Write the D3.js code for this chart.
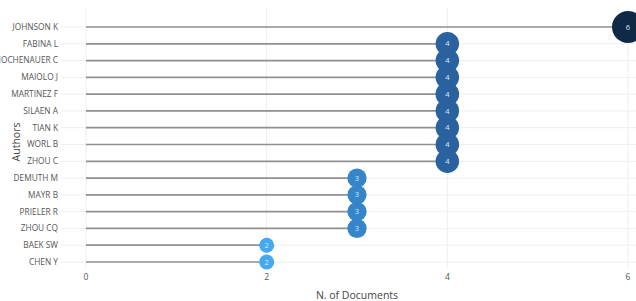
<!DOCTYPE html>
<html>
<head>
<meta charset="utf-8">
<script src="https://cdn.jsdelivr.net/npm/d3@7"></script>
<style>
  body { margin: 0; background: #fff; }
  text { font-family: "Open Sans", sans-serif; }
</style>
</head>
<body>
<div id="chart"></div>
<script>
// Data
const authors = ["JOHNSON K", "FABINA L", "HOCHENAUER C", "MAIOLO J", "MARTINEZ F", "SILAEN A",
  "TIAN K", "WORL B", "ZHOU C", "DEMUTH M", "MAYR B", "PRIELER R", "ZHOU CQ", "BAEK SW", "CHEN Y"];
const documents = [6, 4, 4, 4, 4, 4, 4, 4, 4, 3, 3, 3, 3, 2, 2];
const xTicks = [0, 2, 4, 6];

const width = 636;
const height = 301;

const svg = d3.select("#chart")
  .append("svg")
  .attr("width", width)
  .attr("height", height);

// scales
const x = d3.scaleLinear()
  .domain([0, 6])
  .range([86, 628]);

const y = d3.scalePoint()
  .domain(authors)
  .range([27, 262]);

const r = d3.scaleLinear()
  .domain([2, 6])
  .range([7.5, 16]);

const color = d3.scaleOrdinal()
  .domain([2, 3, 4, 6])
  .range(["#45a9ef", "#3585cb", "#2a62a0", "#0f2946"]);

// grid
svg.append("g")
  .selectAll("line")
  .data(xTicks)
  .join("line")
  .attr("x1", d => x(d))
  .attr("x2", d => x(d))
  .attr("y1", 8)
  .attr("y2", 268)
  .attr("stroke", "#eeeeee")
  .attr("stroke-width", 1);

svg.append("g")
  .selectAll("line")
  .data(authors)
  .join("line")
  .attr("x1", 61)
  .attr("x2", width)
  .attr("y1", d => y(d))
  .attr("y2", d => y(d))
  .attr("stroke", "#eeeeee")
  .attr("stroke-width", 1);

// y labels
svg.append("g")
  .selectAll("text")
  .data(authors)
  .join("text")
  .attr("x", 58)
  .attr("y", d => y(d))
  .attr("dy", "0.35em")
  .attr("text-anchor", "end")
  .attr("font-size", 8.3)
  .attr("fill", "#555")
  .text(d => d);

// x tick labels
svg.append("g")
  .selectAll("text")
  .data(xTicks)
  .join("text")
  .attr("x", d => x(d))
  .attr("y", 280)
  .attr("text-anchor", "middle")
  .attr("font-size", 8.5)
  .attr("fill", "#555")
  .text(d => d);

// axis titles
svg.append("text")
  .attr("x", 357)
  .attr("y", 299)
  .attr("text-anchor", "middle")
  .attr("font-size", 10.5)
  .attr("fill", "#444")
  .text("N. of Documents");

svg.append("text")
  .attr("transform", "translate(20,142) rotate(-90)")
  .attr("text-anchor", "middle")
  .attr("font-size", 10.5)
  .attr("fill", "#444")
  .text("Authors");

// lollipop stems
svg.append("g")
  .selectAll("line")
  .data(authors)
  .join("line")
  .attr("x1", x(0))
  .attr("x2", (d, i) => x(documents[i]))
  .attr("y1", d => y(d))
  .attr("y2", d => y(d))
  .attr("stroke", "#909090")
  .attr("stroke-width", 1.7);

// dots
const dots = svg.append("g")
  .selectAll("g")
  .data(authors)
  .join("g")
  .attr("transform", (d, i) => `translate(${x(documents[i])},${y(d)})`);

dots.append("circle")
  .attr("r", (d, i) => r(documents[i]))
  .attr("fill", (d, i) => color(documents[i]));

dots.append("text")
  .attr("text-anchor", "middle")
  .attr("dy", "0.35em")
  .attr("font-size", 7.5)
  .attr("fill", "#dde6f0")
  .text((d, i) => documents[i]);
</script>
</body>
</html>
